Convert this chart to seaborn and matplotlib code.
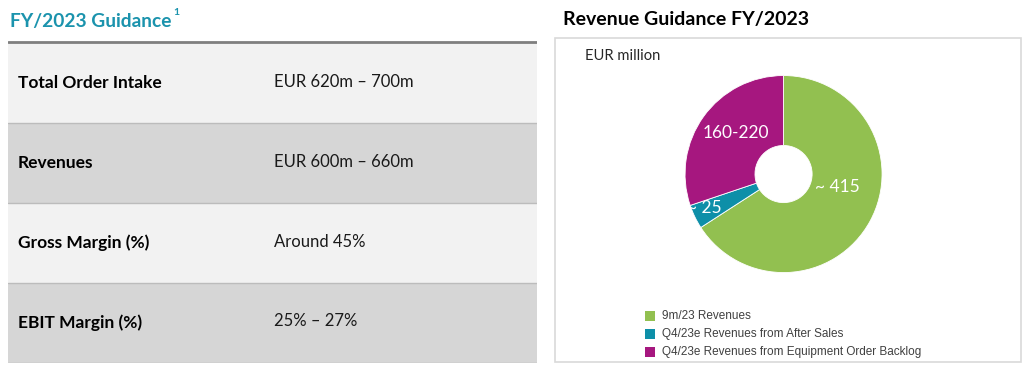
import matplotlib
matplotlib.use("Agg")
import numpy as np
import matplotlib.pyplot as plt
import seaborn as sns
from matplotlib.patches import Rectangle

# table data
row_labels = ["Total Order Intake", "Revenues", "Gross Margin (%)", "EBIT Margin (%)"]
row_values = ["EUR 620m – 700m", "EUR 600m – 660m", "Around 45%", "25% – 27%"]

# donut data (EUR million, midpoint of the range for the backlog part)
segments = ["9m/23 Revenues", "Q4/23e Revenues from After Sales",
            "Q4/23e Revenues from Equipment Order Backlog"]
seg_values = [415, 25, 190]
seg_labels = ["~ 415", "~ 25", "160-220"]

sns.set_theme(style="white")
plt.rcParams['font.family'] = ['Lato', 'DejaVu Sans']

W, H = 1030, 370
fig = plt.figure(figsize=(W / 100, H / 100), dpi=100)
fig.patch.set_facecolor("white")

def fx(x):
    return x / W

def fy(y):
    return 1 - y / H

# ---- left: guidance table ----
fig.text(fx(10), fy(27), "FY/2023 Guidance", color="#1b93ad", fontsize=13.8,
         fontweight="bold", va="baseline")
fig.text(fx(173), fy(15), "1", color="#1b93ad", fontsize=7.5,
         fontweight="bold", va="baseline")

tab_w = 529
tab = fig.add_axes([fx(8), fy(363), fx(tab_w), 322 / H])
tab.set_xlim(0, tab_w)
tab.set_ylim(322, 0)
tab.axis("off")
row_h = 80
for i, (lab, val) in enumerate(zip(row_labels, row_values)):
    top = 1.5 + i * row_h
    col = "#f2f2f2" if i % 2 == 0 else "#d6d6d6"
    tab.add_patch(Rectangle((0, top), tab_w, row_h, facecolor=col, edgecolor="none"))
    tab.axhline(top + row_h, color="#bcbcbc", lw=1)
    tab.text(10, top + row_h / 2, lab, fontsize=12.5, fontweight="bold",
             color="black", va="center")
    tab.text(266, top + row_h / 2 - 1, val, fontsize=12, color="#1a1a1a",
             va="center")
tab.axhline(1, color="#7f7f7f", lw=2)

# ---- right: revenue donut ----
fig.text(fx(563), fy(25), "Revenue Guidance FY/2023", color="black",
         fontsize=14, fontweight="bold", va="baseline")
fig.patches.append(Rectangle((fx(555), fy(362)), fx(466), 324 / H,
                             transform=fig.transFigure, facecolor="none",
                             edgecolor="#d9d9d9", lw=1.2, zorder=-1))
fig.text(fx(585), fy(60), "EUR million", fontsize=10.6, color="#262626",
         va="baseline")

colors = ["#92c050", "#0e8fa8", "#a6177f"]
# centre (783.5, 174), radius ~98.5 px
ax = fig.add_axes([fx(675.2), fy(282.4), fx(216.7), 216.7 / H])
ax.set_facecolor("none")
wedges, _ = ax.pie(seg_values, colors=colors, startangle=90, counterclock=False,
                   wedgeprops=dict(width=0.71, edgecolor="white", linewidth=0.6))
ax.set_xlim(-1.1, 1.1)
ax.set_ylim(-1.1, 1.1)
ax.set_aspect("equal")

# label positions: (angle in degrees, radius)
label_pos = [(-14, 0.56), (203, 0.87), (139, 0.64)]
for txt, (ang, r) in zip(seg_labels, label_pos):
    a = np.deg2rad(ang)
    ax.text(r * np.cos(a), r * np.sin(a), txt, color="white", fontsize=12.5,
            ha="center", va="center")

# legend
for i, name in enumerate(segments):
    y = 316 + i * 18
    fig.patches.append(Rectangle((fx(645), fy(y + 5)), fx(10), 10 / H,
                                 transform=fig.transFigure, facecolor=colors[i],
                                 edgecolor="none"))
    fig.text(fx(662), fy(y), name, fontsize=8.5, color="#404040",
             va="center", family=["Liberation Sans", "DejaVu Sans"])

fig.savefig("out.png", dpi=100)
